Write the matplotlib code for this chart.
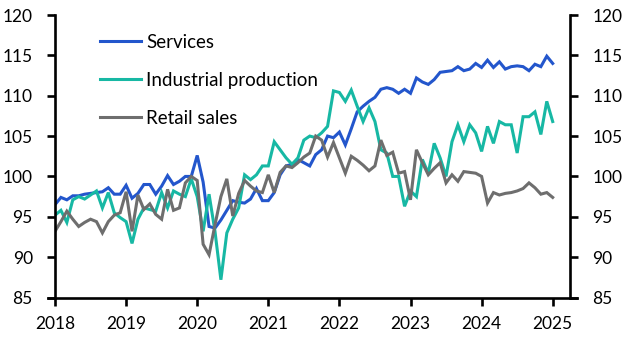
import matplotlib
matplotlib.use('Agg')
import matplotlib.pyplot as plt
import numpy as np

plt.rcParams['font.family'] = ['Lato', 'DejaVu Sans']

# ---- data (monthly, Jan 2018 - Jan 2025) ----
start_year = 2018
services = [96.5, 97.4, 97.1, 97.6, 97.6, 97.8, 97.9, 98.0, 98.1, 98.6, 97.8, 97.8,
            98.9, 97.3, 97.9, 99.0, 99.0, 97.8, 98.8, 100.1, 99.0, 99.4, 100.0, 100.0,
            102.6, 99.3, 93.8, 93.6, 94.6, 95.8, 97.0, 96.8, 96.7, 97.2, 98.5, 97.0,
            97.0, 98.0, 100.2, 101.3, 101.5, 102.1, 101.7, 101.3, 102.7, 103.3, 105.0, 104.8,
            105.5, 103.9, 105.9, 108.0, 108.7, 109.3, 109.8, 110.8, 111.0, 110.8, 110.3, 110.8,
            110.3, 112.2, 111.7, 111.4, 112.0, 112.9, 113.0, 113.1, 113.6, 113.1, 113.3, 114.0,
            113.5, 114.4, 113.5, 114.2, 113.3, 113.6, 113.7, 113.6, 113.1, 113.9, 113.6, 114.9,
            114.0]
industrial = [95.2, 95.8, 94.3, 97.1, 97.5, 97.2, 97.7, 98.2, 96.1, 98.0, 95.5, 94.9,
              94.4, 91.7, 94.7, 96.1, 95.9, 95.7, 98.0, 96.1, 98.2, 97.8, 97.5, 99.7,
              97.5, 93.2, 97.8, 93.2, 87.2, 93.0, 94.7, 96.1, 100.2, 99.6, 100.2, 101.3,
              101.3, 104.3, 103.3, 102.3, 101.5, 102.3, 104.5, 105.0, 104.8, 105.4, 106.2, 110.6,
              110.4, 109.3, 110.7, 108.7, 106.8, 108.5, 106.8, 103.3, 102.9, 100.0, 100.0, 96.3,
              98.2, 97.5, 102.1, 100.4, 104.1, 102.3, 100.0, 104.3, 106.4, 104.3, 106.4, 105.4,
              103.1, 106.2, 104.1, 106.8, 106.4, 106.4, 102.9, 107.4, 107.4, 108.0, 105.2, 109.3,
              106.8]
retail = [93.2, 94.4, 95.7, 94.7, 93.8, 94.3, 94.7, 94.4, 93.0, 94.4, 95.2, 95.5,
          98.1, 93.2, 97.7, 95.9, 96.6, 95.3, 94.7, 98.4, 95.8, 96.1, 99.2, 100.0,
          99.5, 91.6, 90.3, 94.0, 97.5, 99.7, 95.1, 97.9, 99.5, 98.8, 98.2, 98.0,
          100.2, 98.0, 100.5, 101.3, 101.1, 101.7, 102.4, 102.9, 105.0, 104.5, 102.4, 104.2,
          102.3, 100.4, 102.5, 102.0, 101.4, 100.7, 101.3, 104.5, 102.6, 103.0, 100.4, 100.6,
          97.1, 103.3, 101.7, 100.2, 101.0, 101.7, 99.2, 100.2, 99.4, 100.6, 100.5, 100.4,
          100.0, 96.7, 98.0, 97.7, 97.9, 98.0, 98.2, 98.5, 99.2, 98.6, 97.8, 98.0,
          97.4]
series_names = ['Services', 'Industrial production', 'Retail sales']
series_colors = ['#2356CC', '#17B8A4', '#6E6E6E']
year_ticks = list(range(2018, 2026))
y_ticks = list(range(85, 121, 5))

# ---- figure ----
W, H = 631, 343
fig = plt.figure(figsize=(W / 100, H / 100), dpi=100)
left_px, right_px, top_px, bottom_px = 55, 570, 15, 297.5
ax = fig.add_axes([left_px / W, 1 - bottom_px / H,
                   (right_px - left_px) / W, (bottom_px - top_px) / H])

months = np.arange(len(services))
x = start_year + months / 12.0
for vals, name, col in zip([services, industrial, retail], series_names, series_colors):
    ax.plot(x, vals, color=col, lw=2.2, label=name, solid_joinstyle='miter')

px_per_year = 71.1
xmax = start_year + (right_px - left_px) / px_per_year
ax.set_xlim(start_year, xmax)
ax.set_ylim(min(y_ticks), max(y_ticks))
ax.set_xticks(year_ticks)
ax.set_xticklabels([str(y) for y in year_ticks])
ax.set_yticks(y_ticks)

ax.spines['top'].set_visible(False)
for s in ['left', 'right', 'bottom']:
    ax.spines[s].set_linewidth(1.9)
ext = 7 / px_per_year
ax.spines['bottom'].set_bounds(start_year - ext, xmax + ext)

ax.tick_params(axis='y', which='both', left=True, right=True, labelleft=True,
               labelright=True, direction='out', length=6, width=1.9, pad=10,
               labelsize=12.5, colors='black')
ax.tick_params(axis='x', direction='out', length=6, width=1.9, pad=7,
               labelsize=12.5)

leg = ax.legend(loc='upper left', bbox_to_anchor=(100 / W, 1 - 34 / H),
                bbox_transform=fig.transFigure, frameon=False, fontsize=13.5,
                handlelength=2.2, handletextpad=0.25, labelspacing=1.12,
                borderpad=0, borderaxespad=0)
for line in leg.get_lines():
    line.set_linewidth(2.2)

fig.savefig('out.png', dpi=100)
